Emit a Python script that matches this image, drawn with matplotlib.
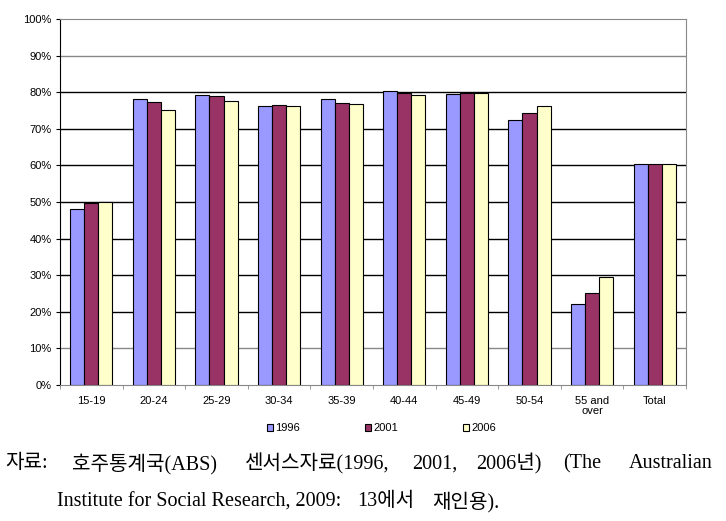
import numpy as np
import matplotlib
matplotlib.use("Agg")
import matplotlib.pyplot as plt
from matplotlib.ticker import FixedLocator, PercentFormatter

categories = ["15-19", "20-24", "25-29", "30-34", "35-39", "40-44",
              "45-49", "50-54", "55 and\nover", "Total"]
years = ["1996", "2001", "2006"]
v1996 = [48.0, 78.1, 79.1, 76.2, 78.1, 80.3, 79.5, 72.4, 22.1, 60.5]
v2001 = [49.8, 77.3, 78.9, 76.5, 77.0, 79.8, 79.8, 74.3, 25.1, 60.5]
v2006 = [50.0, 75.1, 77.6, 76.2, 76.8, 79.2, 79.8, 76.2, 29.4, 60.5]
colors = ["#9999FF", "#993366", "#FFFFCC"]

caption1 = ["자료:", "호주통계국(ABS)", "센서스자료(1996,", "2001,", "2006년)",
            "(The", "Australian"]
caption2 = ["Institute for Social Research, 2009:", "13에서", "재인용)."]

plt.rcParams["font.family"] = ["Liberation Sans", "DejaVu Sans"]

W, H = 726, 521
fig = plt.figure(figsize=(W / 100, H / 100), dpi=100)
ax = fig.add_axes([60 / W, 1 - 385 / H, 626 / W, 366 / H])

x = np.arange(len(categories))
bw = 0.224
for i, (vals, c, lab) in enumerate(zip([v1996, v2001, v2006], colors, years)):
    ax.bar(x + (i - 1) * bw, vals, bw, color=c, edgecolor="black",
           linewidth=0.8, label=lab, zorder=3)

ax.set_xlim(-0.5, len(categories) - 0.5)
ax.set_ylim(0, 100)
ax.yaxis.set_major_locator(FixedLocator(np.arange(0, 101, 10)))
ax.yaxis.set_major_formatter(PercentFormatter(decimals=0))
for yv in range(10, 100, 10):
    col = "#888888" if yv in (10, 90) else "black"
    ax.axhline(yv, color=col, linewidth=1.0, zorder=1)

ax.set_xticks(x)
ax.set_xticklabels(categories, fontsize=8, linespacing=1.0)
ax.set_xticks(np.arange(-0.5, len(categories), 1), minor=True)
ax.tick_params(axis="x", which="major", length=0, pad=8)
ax.tick_params(axis="x", which="minor", length=3, direction="out", color="#888888")
ax.tick_params(axis="y", length=3, direction="out", labelsize=8, pad=3)

for side in ["top", "right", "bottom"]:
    ax.spines[side].set_color("#888888")
ax.spines["left"].set_color("black")

fig.legend(loc="center", bbox_to_anchor=(381.5 / W, 1 - 428 / H), ncol=3,
           frameon=False, fontsize=8, handlelength=0.6, handleheight=0.6,
           handletextpad=0.2, columnspacing=5.8, borderpad=0)

# source note, words placed like the justified original
cap_font = ["Liberation Serif", "Noto Sans CJK KR"]
xs1 = [5, 72, 245, 412, 476, 563, 629]
for word, xp in zip(caption1, xs1):
    fig.text(xp / W, 1 - 464 / H, word, family=cap_font, fontsize=14.5,
             va="center", ha="left")
xs2 = [57, 357, 432]
for word, xp in zip(caption2, xs2):
    fig.text(xp / W, 1 - 502 / H, word, family=cap_font, fontsize=14.5,
             va="center", ha="left")

fig.savefig("out.png", dpi=100)
